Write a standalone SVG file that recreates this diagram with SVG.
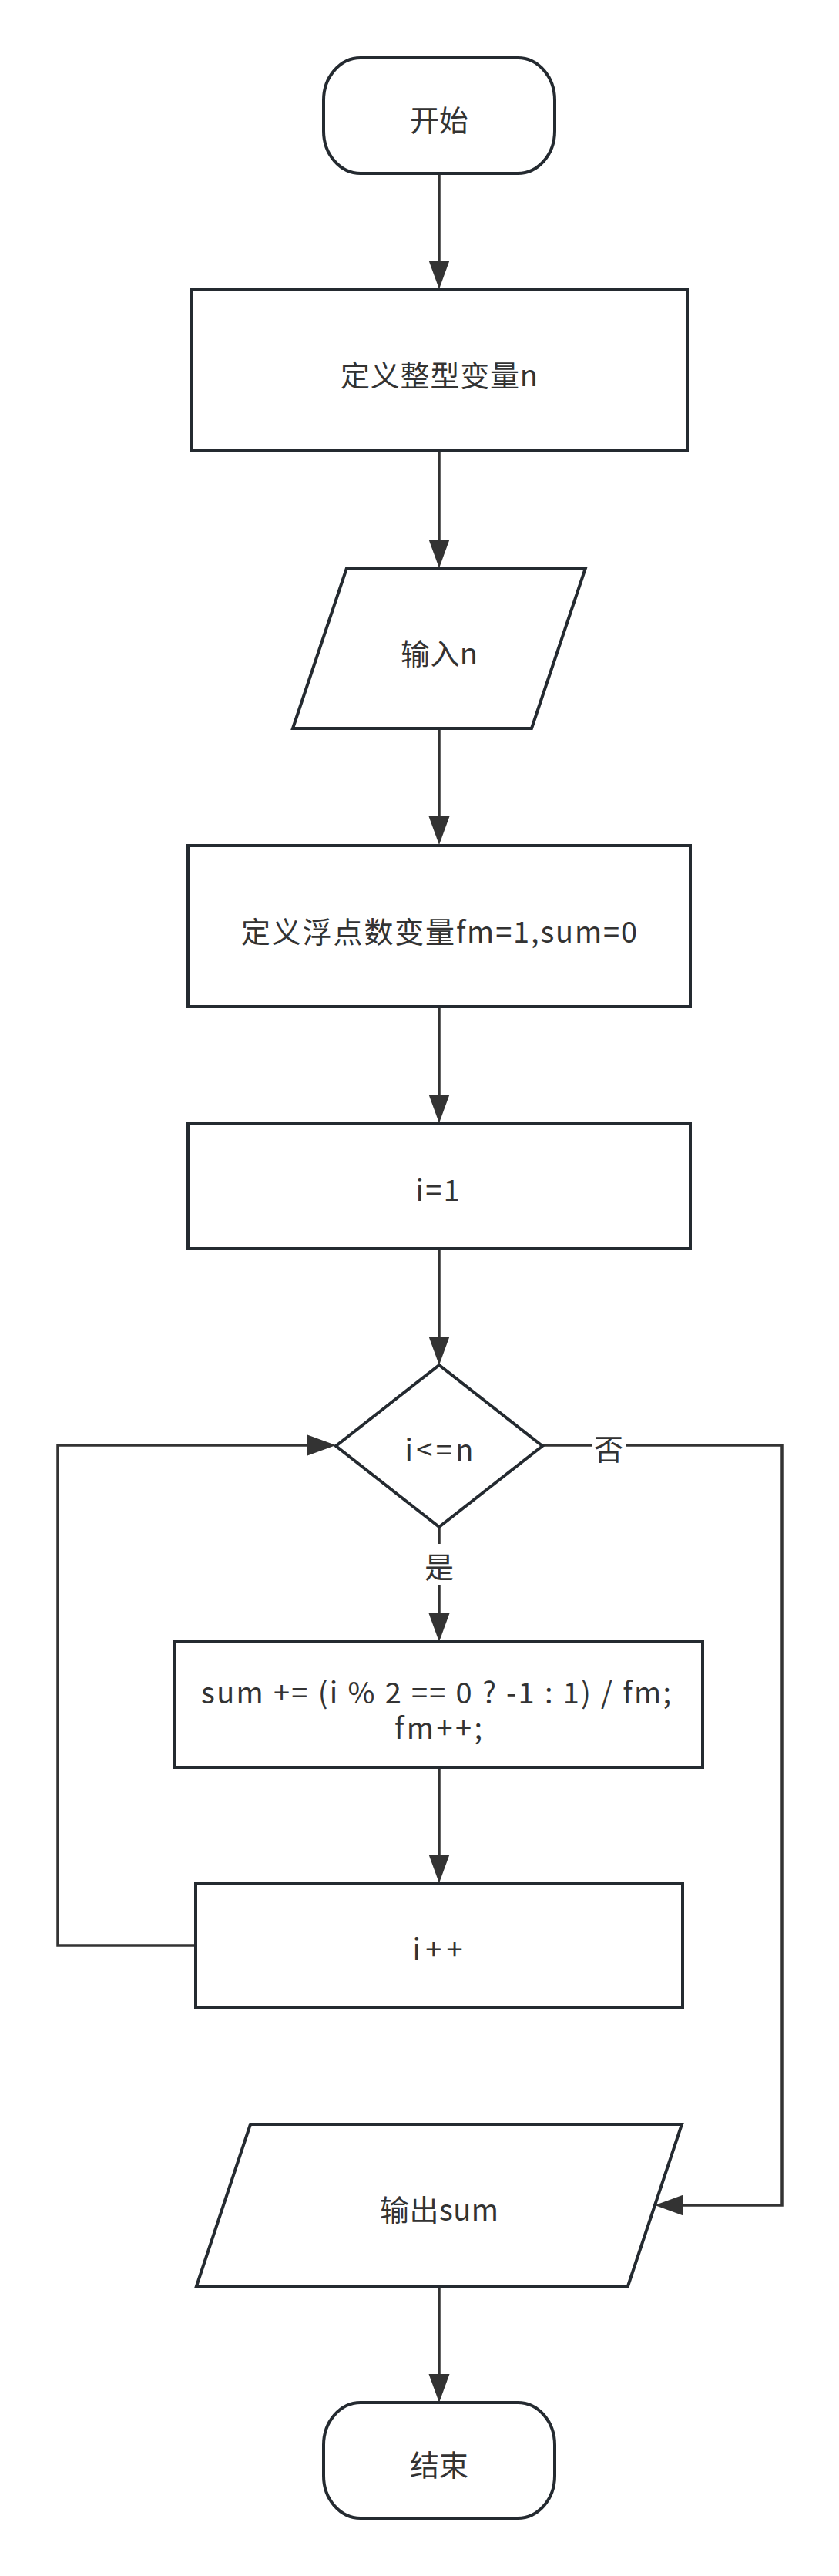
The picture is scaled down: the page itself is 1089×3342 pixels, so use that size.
<svg xmlns="http://www.w3.org/2000/svg" width="1089" height="3342" viewBox="0 0 1089 3342">
<defs>
<style>
.shape{fill:#ffffff;stroke:#242a30;stroke-width:4;}
.edge{fill:none;stroke:#333333;stroke-width:3.5;}
.t{font-family:"Noto Sans CJK SC","Noto Sans",sans-serif;font-size:38px;fill:#333333;text-anchor:middle;dominant-baseline:central;}
.bg{fill:#ffffff;stroke:none;}
</style>
<marker id="ah" markerUnits="userSpaceOnUse" markerWidth="38" markerHeight="28" refX="0" refY="13.5" orient="auto" overflow="visible">
<path d="M0,0 L37,13.5 L0,27 Z" fill="#333333"/>
</marker>
</defs>
<rect width="1089" height="3342" fill="#ffffff"/>
<g id="connectors">
<line class="edge" x1="570" y1="225" x2="570" y2="338" marker-end="url(#ah)"/>
<line class="edge" x1="570" y1="584" x2="570" y2="700" marker-end="url(#ah)"/>
<line class="edge" x1="570" y1="945" x2="570" y2="1059" marker-end="url(#ah)"/>
<line class="edge" x1="570" y1="1306" x2="570" y2="1420" marker-end="url(#ah)"/>
<line class="edge" x1="570" y1="1620" x2="570" y2="1734" marker-end="url(#ah)"/>
<line class="edge" x1="570" y1="1981" x2="570" y2="2093" marker-end="url(#ah)"/>
<rect class="bg" x="548" y="2003" width="44" height="53"/>
<text class="t" x="570" y="2030">是</text>
<line class="edge" x1="570" y1="2293" x2="570" y2="2406" marker-end="url(#ah)"/>
<polyline class="edge" points="254,2524 75,2524 75,1875 399,1875" marker-end="url(#ah)"/>
<polyline class="edge" points="704,1875 1015,1875 1015,2861 887,2861" marker-end="url(#ah)"/>
<rect class="bg" x="768" y="1852" width="44" height="48"/>
<text class="t" x="790" y="1877">否</text>
<line class="edge" x1="570" y1="2966" x2="570" y2="3080" marker-end="url(#ah)"/>
</g>
<g id="start">
<rect class="shape" x="420" y="75" width="300" height="150" rx="48" ry="55"/>
<text class="t" x="570" y="153">开始</text>
</g>
<g id="define-n">
<rect class="shape" x="248" y="375" width="644" height="209"/>
<text class="t" x="570" y="484" textLength="256" lengthAdjust="spacing">定义整型变量n</text>
</g>
<g id="input-n">
<polygon class="shape" points="450,737 760,737 690,945 380,945"/>
<text class="t" x="570" y="845" textLength="100" lengthAdjust="spacing">输入n</text>
</g>
<g id="define-fm">
<rect class="shape" x="244" y="1097" width="652" height="209"/>
<text class="t" x="570" y="1206" textLength="514" lengthAdjust="spacing">定义浮点数变量fm=1,sum=0</text>
</g>
<g id="init-i">
<rect class="shape" x="244" y="1457" width="652" height="163"/>
<text class="t" x="568" y="1541" textLength="57" lengthAdjust="spacing">i=1</text>
</g>
<g id="cond">
<polygon class="shape" points="570,1771 704,1876 570,1981 436,1876"/>
<text class="t" x="570" y="1878" textLength="89" lengthAdjust="spacing">i&lt;=n</text>
</g>
<g id="sum">
<rect class="shape" x="227" y="2130" width="685" height="163"/>
<text class="t" x="566" y="2193" textLength="610" lengthAdjust="spacing">sum += (i % 2 == 0 ? -1 : 1) / fm;</text>
<text class="t" x="569" y="2239" textLength="114" lengthAdjust="spacing">fm++;</text>
</g>
<g id="inc-i">
<rect class="shape" x="254" y="2443" width="632" height="162"/>
<text class="t" x="568" y="2526" textLength="65" lengthAdjust="spacing">i++</text>
</g>
<g id="output">
<polygon class="shape" points="325,2756 885,2756 815,2966 255,2966"/>
<text class="t" x="570" y="2864" textLength="154" lengthAdjust="spacing">输出sum</text>
</g>
<g id="end">
<rect class="shape" x="420" y="3117" width="300" height="150" rx="48" ry="55"/>
<text class="t" x="570" y="3195">结束</text>
</g>
</svg>
